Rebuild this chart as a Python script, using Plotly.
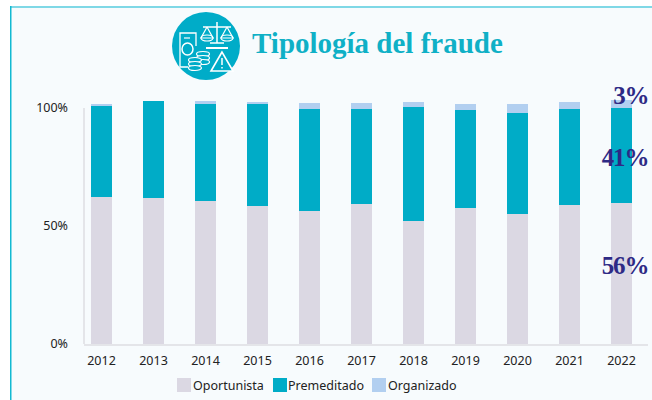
import plotly.graph_objects as go

W, H = 652, 400
years = ["2012","2013","2014","2015","2016","2017","2018","2019","2020","2021","2022"]
oportunista = [62.3,61.9,60.6,58.5,56.4,59.3,52.1,57.6,55.1,58.9,59.7]
premeditado = [39.0,41.1,41.5,43.2,43.2,40.3,48.3,41.6,42.8,40.7,40.3]
organizado = [0.6,0.0,0.8,1.0,2.5,2.5,2.0,2.6,4.0,3.0,3.2]
series_names = ["Oportunista","Premeditado","Organizado"]
series_colors = ["#dbd8e3","#00acc7","#b2cff0"]
end_labels = ["3%","41%","56%"]
title_text = "Tipología del fraude"
y_top = 106

def px(x): return x / W
def py(y): return 1 - y / H

fig = go.Figure()
for name, vals, col in zip(series_names, [oportunista, premeditado, organizado], series_colors):
    fig.add_bar(x=years, y=vals, name=name, marker=dict(color=col, line=dict(width=0)),
                width=0.405, showlegend=False)

shapes = []
def rect(x0,y0,x1,y1,fill,layer="below"):
    shapes.append(dict(type="rect",xref="paper",yref="paper",x0=px(x0),x1=px(x1),y0=py(y0),y1=py(y1),
                       fillcolor=fill,line=dict(width=0),layer=layer))
def path(pts, close=False, fill=None, w=1.5):
    d = "M" + " L".join(f"{px(a):.5f},{py(b):.5f}" for a,b in pts) + (" Z" if close else "")
    shapes.append(dict(type="path",xref="paper",yref="paper",path=d,fillcolor=fill or "rgba(0,0,0,0)",
                       line=dict(color="white",width=w),layer="above"))
def ell(cx,cy,rx,ry,fill=None,col="white",w=1.5):
    shapes.append(dict(type="circle",xref="paper",yref="paper",x0=px(cx-rx),x1=px(cx+rx),y0=py(cy-ry),y1=py(cy+ry),
                       fillcolor=fill or "rgba(0,0,0,0)",line=dict(color=col,width=w),layer="above"))

# panel
rect(10,6,W,H,"#f7fbfd")
rect(10,6,W,8,"#7fd8e6")
rect(10,6,11.5,H,"#12b9d2")
# y axis line, only up to 100%
shapes.append(dict(type="line",xref="paper",yref="y",x0=px(84),x1=px(84),y0=0,y1=100,
                   line=dict(color="#e4e5e9",width=2),layer="below"))

# icon
ell(206,46,34,34,fill="#00acc8",col="#00acc8",w=0)
path([(217,22),(217,43)])
path([(203,27),(231,27)])
path([(206,48),(228,48)],w=2)
path([(210,43),(224,43)])
path([(207,27),(201,38),(213,38),(207,27)],w=1.2)
path([(227,27),(221,38),(233,38),(227,27)],w=1.2)
ell(207,38,6,3,w=1.2); ell(227,38,6,3,w=1.2)
path([(196,46),(196,33),(180,33),(180,67),(188,67)],w=1.3)
ell(187.5,49,5.5,6,w=1.5)
path([(184,38),(190,38)],w=1.2)
for cy in (54,58,62): ell(203,cy,6.5,2.5,fill="#00acc8",w=1.2)
for cy in (60,64,68): ell(195,cy,6.5,2.5,fill="#00acc8",w=1.2)
path([(222,52),(211,71),(233,71)],close=True,fill="#00acc8",w=1.6)
path([(222,58),(222,65)],w=1.5)
path([(222,67),(222,68.5)],w=1.5)

ann = [dict(text=title_text,xref="paper",yref="paper",x=px(250),y=py(43),xanchor="left",yanchor="middle",
            showarrow=False,font=dict(family="Liberation Serif",size=29,color="#0fb0c6",weight="bold"))]
for t, yy in zip(end_labels,[95,157,265]):
    ann.append(dict(text=t,xref="paper",yref="paper",x=px(651.5),y=py(yy),xanchor="right",yanchor="middle",
                    showarrow=False,font=dict(family="Liberation Serif",size=25,color="#2e2a85",weight="bold")))
# legend
for name,col,x0,dx in zip(series_names,series_colors,[177,273,372],[13.5,13,13.5]):
    rect(x0,378,x0+14,392,col)
    ann.append(dict(text=name,xref="paper",yref="paper",x=px(x0+dx),y=py(385.5),xanchor="left",yanchor="middle",
                    showarrow=False,font=dict(family="Noto Sans",size=12.5,color="#222")))

fig.update_layout(
    width=W,height=H,margin=dict(l=0,r=0,t=0,b=0),paper_bgcolor="white",plot_bgcolor="rgba(0,0,0,0)",
    barmode="stack",shapes=shapes,annotations=ann,
    font=dict(family="Noto Sans",size=12.5,color="#222"),
    xaxis=dict(domain=[px(84),px(648)],range=[-0.337,10.51],showgrid=False,zeroline=False,automargin=False,
               showline=True,linecolor="#e4e5e9",linewidth=2,ticks="",type="category",ticklabelstandoff=4),
    yaxis=dict(domain=[py(344),py(344-y_top*2.36)],range=[0,y_top],tickvals=[0,50,100],ticktext=["0%","50%","100%"],
               automargin=False,showgrid=False,zeroline=False,showline=False,ticks="",ticklabelstandoff=15),
)
fig.write_html("out.html",config=dict(displayModeBar=False),
    post_script="document.body.style.margin='0';document.querySelectorAll('.annotation-text').forEach(function(t){if(/^\\d+%$/.test(t.textContent)){t.style.letterSpacing='-1.2px';}});")
